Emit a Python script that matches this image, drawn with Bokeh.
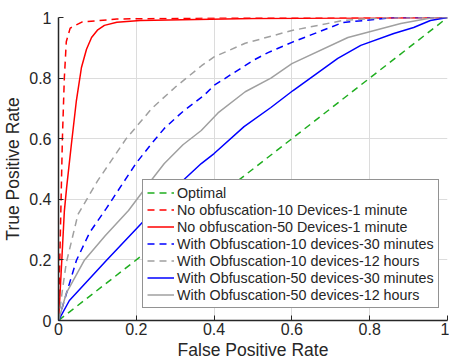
from bokeh.plotting import figure
from bokeh.models import Range1d, Legend, LegendItem, FixedTicker
from bokeh.embed import file_html
from bokeh.resources import INLINE

# ---- data ----
opt_x = [0.0, 1.0]
opt_y = [0.0, 1.0]

rd_x = [0.0, 0.005, 0.01, 0.015, 0.02, 0.03, 0.06, 0.15, 0.5, 1.0]
rd_y = [0.0, 0.30, 0.60, 0.80, 0.92, 0.965, 0.985, 0.995, 1.0, 1.0]

rs_x = [0.0, 0.003, 0.015, 0.021, 0.033, 0.046, 0.059, 0.072, 0.085, 0.1, 0.118, 0.15, 0.21, 0.5, 1.0]
rs_y = [0.0, 0.066, 0.36, 0.44, 0.58, 0.726, 0.835, 0.895, 0.934, 0.958, 0.974, 0.984, 0.99, 0.997, 1.0]

bd_x = [0.0, 0.015, 0.046, 0.08, 0.123, 0.2, 0.24, 0.272, 0.32, 0.374, 0.4, 0.5, 0.54, 0.6, 0.73, 0.86, 1.0]
bd_y = [0.0, 0.066, 0.198, 0.29, 0.37, 0.52, 0.585, 0.634, 0.69, 0.743, 0.776, 0.858, 0.885, 0.918, 0.983, 1.0, 1.0]

gd_x = [0.0, 0.01, 0.02, 0.05, 0.1, 0.174, 0.24, 0.30, 0.367, 0.4, 0.48, 0.6, 0.73, 0.85, 1.0]
gd_y = [0.0, 0.10, 0.19, 0.35, 0.46, 0.60, 0.70, 0.77, 0.84, 0.87, 0.915, 0.957, 0.99, 1.0, 1.0]

bs_x = [0.0, 0.028, 0.123, 0.213, 0.32, 0.367, 0.4, 0.477, 0.546, 0.603, 0.718, 0.777, 0.862, 0.913, 0.956, 1.0]
bs_y = [0.0, 0.066, 0.198, 0.32, 0.462, 0.518, 0.551, 0.64, 0.703, 0.759, 0.865, 0.908, 0.947, 0.967, 0.99, 1.0]

gs_x = [0.0, 0.02, 0.067, 0.12, 0.18, 0.238, 0.272, 0.32, 0.367, 0.41, 0.48, 0.546, 0.6, 0.744, 0.88, 0.964, 1.0]
gs_y = [0.0, 0.09, 0.20, 0.28, 0.363, 0.462, 0.518, 0.58, 0.627, 0.685, 0.755, 0.80, 0.848, 0.934, 0.98, 1.0, 1.0]

labels = [
    "Optimal",
    "No obfuscation-10 Devices-1 minute",
    "No obfuscation-50 Devices-1 minute",
    "With Obfuscation-10 devices-30 minutes",
    "With Obfuscation-10 devices-12 hours",
    "With Obfuscation-50 devices-30 minutes",
    "With Obfuscation-50 devices-12 hours",
]
ticks = [0, 0.2, 0.4, 0.6, 0.8, 1]
tick_labels = {0: "0", 0.2: "0.2", 0.4: "0.4", 0.6: "0.6", 0.8: "0.8", 1: "1"}

FONT = "Liberation Sans"
TXT = "#262626"
DASH = "7 5"

p = figure(width=449, height=364, output_backend="svg", toolbar_location=None,
           x_range=Range1d(0, 1), y_range=Range1d(0, 1),
           min_border_left=57, min_border_right=2, min_border_top=17, min_border_bottom=44)
p.outline_line_color = None
p.background_fill_color = "white"

series = [
    (opt_x, opt_y, "#1fae1f", DASH),
    (rd_x, rd_y, "#ff0000", DASH),
    (rs_x, rs_y, "#ff0000", "solid"),
    (bd_x, bd_y, "#0000ff", DASH),
    (gd_x, gd_y, "#a0a0a0", DASH),
    (bs_x, bs_y, "#0000ff", "solid"),
    (gs_x, gs_y, "#a0a0a0", "solid"),
]
items = []
for (xs, ys, col, dash), lab in zip(series, labels):
    r = p.line(xs, ys, line_color=col, line_width=1.5, line_dash=dash)
    items.append(LegendItem(label=lab, renderers=[r]))

for ax in (p.xaxis[0], p.yaxis[0]):
    ax.ticker = FixedTicker(ticks=ticks)
    ax.major_label_overrides = tick_labels
    ax.major_tick_in = 5
    ax.major_tick_out = 0
    ax.minor_tick_line_color = None
    ax.axis_line_color = TXT
    ax.axis_line_width = 1.5
    ax.major_tick_line_color = TXT
    ax.major_label_text_font = FONT
    ax.major_label_text_font_size = "16px"
    ax.major_label_text_color = TXT
    ax.axis_label_text_font = FONT
    ax.axis_label_text_font_size = "17.5px"
    ax.axis_label_text_font_style = "normal"
    ax.axis_label_text_color = TXT

p.xaxis.axis_label = "False Positive Rate"
p.yaxis.axis_label = "True Positive Rate"
p.xaxis.major_label_standoff = 2
p.xaxis.axis_label_standoff = 2
p.yaxis.major_label_standoff = 7
p.yaxis.axis_label_standoff = 3

p.grid.ticker = FixedTicker(ticks=ticks)
p.grid.grid_line_color = "#dcdcdc"
p.grid.grid_line_width = 1

legend = Legend(items=items, location=(84, 12))
legend.label_text_font = FONT
legend.label_text_font_size = "14.3px"
legend.label_text_color = TXT
legend.glyph_width = 27
legend.glyph_height = 17
legend.label_height = 17
legend.label_standoff = 3
legend.spacing = 0
legend.padding = 4
legend.margin = 0
legend.border_line_color = TXT
legend.border_line_width = 1.5
legend.background_fill_color = "white"
legend.background_fill_alpha = 1
p.add_layout(legend, "center")

open("out.html", "w").write(file_html(p, INLINE))
